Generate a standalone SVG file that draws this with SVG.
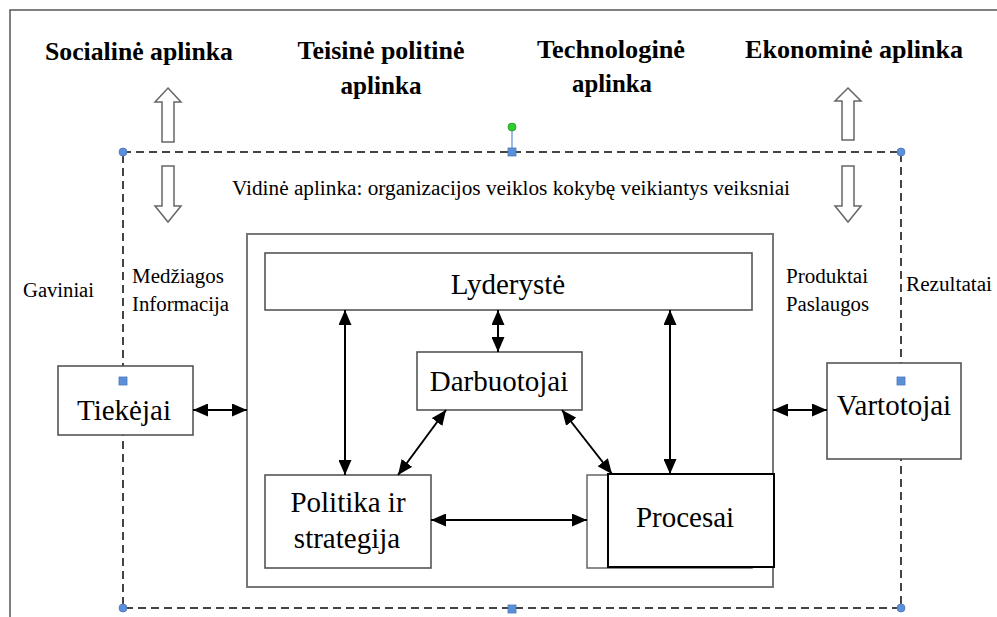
<svg xmlns="http://www.w3.org/2000/svg" width="997" height="617" viewBox="0 0 997 617" font-family="Liberation Serif, Times New Roman, Times, serif">
  <style>
    .title { font-weight: bold; font-size: 25px; }
    .lbl { font-size: 20px; }
    .box-t { font-size: 29px; text-anchor: middle; }
    .box { fill: #fff; stroke: #555; stroke-width: 1.6; }
    .block { fill: #fff; stroke: #666; stroke-width: 1.5; }
    .conn { stroke: #000; stroke-width: 2; fill: none; marker-start: url(#ah); marker-end: url(#ah); }
    .handle { fill: #5b8fd8; stroke: #4a78b8; stroke-width: 0.8; }
  </style>
  <defs>
    <marker id="ah" markerUnits="userSpaceOnUse" markerWidth="15" markerHeight="13" refX="15" refY="6.5" orient="auto-start-reverse">
      <path d="M0,0 L15,6.5 L0,13 z" fill="#000"/>
    </marker>
  </defs>

  <rect width="997" height="617" fill="#fff"/>
  <!-- page frame -->
  <path d="M10,617 V10 H997" fill="none" stroke="#555" stroke-width="1.5"/>

  <!-- external environment headings -->
  <g id="env-titles">
    <text class="title" x="45" y="60" textLength="188" lengthAdjust="spacingAndGlyphs">Socialinė aplinka</text>
    <text class="title" x="381" y="59" text-anchor="middle" textLength="167" lengthAdjust="spacingAndGlyphs">Teisinė politinė</text>
    <text class="title" x="381" y="94" text-anchor="middle" textLength="81" lengthAdjust="spacingAndGlyphs">aplinka</text>
    <text class="title" x="611" y="58" text-anchor="middle" textLength="148" lengthAdjust="spacingAndGlyphs">Technologinė</text>
    <text class="title" x="612" y="92" text-anchor="middle" textLength="80" lengthAdjust="spacingAndGlyphs">aplinka</text>
    <text class="title" x="745" y="58" textLength="218" lengthAdjust="spacingAndGlyphs">Ekonominė  aplinka</text>
  </g>

  <!-- hollow block arrows -->
  <g id="block-arrows">
    <polygon class="block" points="168,88 181,102 174,102 174,142 162,142 162,102 155,102"/>
    <polygon class="block" points="162,166 174,166 174,206 181,206 168,222 155,206 162,206"/>
    <polygon class="block" points="848,88 861,101 854,101 854,140 842,140 842,101 835,101"/>
    <polygon class="block" points="842,166 854,166 854,206 861,206 848,222 835,206 842,206"/>
  </g>

  <!-- internal environment boundary (dashed, with selection handles) -->
  <g id="internal-environment">
    <rect x="123" y="152" width="778" height="456" fill="none" stroke="#444" stroke-width="2" stroke-dasharray="8,5"/>
    <line x1="512" y1="127" x2="512" y2="152" stroke="#5b8fd8" stroke-width="1.2"/>
    <circle cx="512" cy="127" r="4" fill="#2ecc2e" stroke="#229922" stroke-width="0.8"/>
    <circle class="handle" cx="123" cy="152" r="4"/>
    <circle class="handle" cx="901" cy="152" r="4"/>
    <circle class="handle" cx="123" cy="608" r="4"/>
    <circle class="handle" cx="901" cy="608" r="4"/>
    <rect class="handle" x="508" y="148" width="8" height="8"/>
    <rect class="handle" x="508" y="605" width="8" height="8"/>
    <text class="lbl" x="232" y="195" font-size="19.5" textLength="558" lengthAdjust="spacingAndGlyphs">Vidinė aplinka:  organizacijos  veiklos  kokybę  veikiantys  veiksniai</text>
  </g>

  <!-- flow labels -->
  <g id="flow-labels">
    <text class="lbl" x="23" y="297" textLength="71" lengthAdjust="spacingAndGlyphs">Gaviniai</text>
    <text class="lbl" x="132" y="283" textLength="92" lengthAdjust="spacingAndGlyphs">Medžiagos</text>
    <text class="lbl" x="132" y="311" textLength="97" lengthAdjust="spacingAndGlyphs">Informacija</text>
    <text class="lbl" x="786" y="283" textLength="82" lengthAdjust="spacingAndGlyphs">Produktai</text>
    <text class="lbl" x="786" y="311" textLength="83" lengthAdjust="spacingAndGlyphs">Paslaugos</text>
    <text class="lbl" x="906" y="291" textLength="86" lengthAdjust="spacingAndGlyphs">Rezultatai</text>
    <text class="lbl" x="465" y="506" textLength="98" lengthAdjust="spacingAndGlyphs">Informacija</text>
  </g>

  <!-- organisation frame -->
  <g id="organisation">
    <rect x="247" y="234" width="526" height="353" fill="#fff" stroke="#777" stroke-width="2"/>
  </g>

  <g id="tiekejai">
    <rect class="box" x="58" y="366" width="135" height="69"/>
    <rect class="handle" x="119" y="377" width="8" height="8"/>
    <text class="box-t" x="124" y="420">Tiekėjai</text>
  </g>

  <g id="vartotojai">
    <rect class="box" x="827" y="363" width="134" height="96"/>
    <rect class="handle" x="897" y="377" width="8" height="8"/>
    <text class="box-t" x="894" y="415">Vartotojai</text>
  </g>

  <g id="lyderyste">
    <rect class="box" x="265" y="253" width="487" height="57"/>
    <text class="box-t" x="508" y="294">Lyderystė</text>
  </g>

  <g id="darbuotojai">
    <rect class="box" x="417" y="352" width="165" height="58"/>
    <text class="box-t" x="499" y="391">Darbuotojai</text>
  </g>

  <g id="politika">
    <rect class="box" x="265" y="475" width="166" height="93"/>
    <text class="box-t" x="348" y="512">Politika ir</text>
    <text class="box-t" x="347" y="548">strategija</text>
  </g>

  <g id="procesai">
    <rect x="587" y="475" width="165" height="93" fill="#fff" stroke="#666" stroke-width="1.5"/>
    <rect x="608" y="474" width="166" height="93" fill="#fff" stroke="#000" stroke-width="2"/>
    <text class="box-t" x="685" y="527">Procesai</text>
  </g>

  <!-- connectors -->
  <g id="connectors">
    <line class="conn" x1="193" y1="410" x2="247" y2="410"/>
    <line class="conn" x1="773" y1="410" x2="827" y2="410"/>
    <line class="conn" x1="345" y1="310" x2="345" y2="475"/>
    <line class="conn" x1="670" y1="310" x2="670" y2="474"/>
    <line class="conn" x1="498" y1="310" x2="498" y2="352"/>
    <line class="conn" x1="446" y1="410" x2="398" y2="475"/>
    <line class="conn" x1="562" y1="410" x2="612" y2="474"/>
    <line class="conn" x1="431" y1="520" x2="587" y2="520"/>
  </g>
</svg>
